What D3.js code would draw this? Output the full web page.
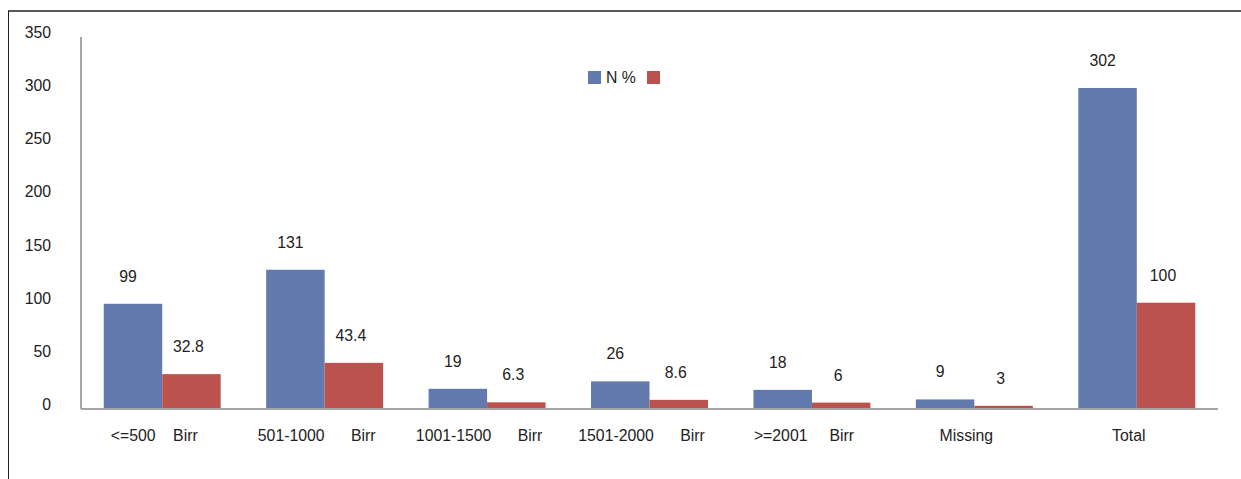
<!DOCTYPE html>
<html>
<head>
<meta charset="utf-8">
<script src="https://cdn.jsdelivr.net/npm/d3@7"></script>
<style>
body { margin: 0; background: #fff; }
text { font-family: "Liberation Sans", Arial, sans-serif; fill: #222; }
</style>
</head>
<body>
<script>
// data
var categories = ["<=500    Birr", "501-1000      Birr", "1001-1500      Birr", "1501-2000      Birr", ">=2001     Birr", "Missing", "Total"];
var nValues = [99, 131, 19, 26, 18, 9, 302];
var pctValues = [32.8, 43.4, 6.3, 8.6, 6, 3, 100];
var yTicks = [0, 50, 100, 150, 200, 250, 300, 350];
var seriesNames = ["N %", ""];
var colors = ["#6279ad", "#bc524d"];

var width = 1241, height = 479;
var fs = 15.8;

var svg = d3.select("body").append("svg")
            .attr("width", width)
            .attr("height", height);

// chart frame
svg.append("line").attr("x1", 8).attr("x2", width).attr("y1", 11).attr("y2", 11)
   .attr("stroke", "#5a5a5a").attr("stroke-width", 2);
svg.append("line").attr("x1", 8.5).attr("x2", 8.5).attr("y1", 11).attr("y2", height)
   .attr("stroke", "#222").attr("stroke-width", 1);

var x = d3.scaleBand().domain(d3.range(categories.length)).range([81, 1218]);
var y = d3.scaleLinear().domain([0, 350]).range([409, 37]);

var barW = x.bandwidth() * 0.36;

// y tick labels
svg.selectAll(".ytick").data(yTicks).enter().append("text")
   .attr("x", 51)
   .attr("y", function (d) { return y(d) + 1; })
   .attr("text-anchor", "end")
   .attr("font-size", fs)
   .text(function (d) { return d; });

// axes lines
svg.append("line").attr("x1", 81).attr("x2", 81).attr("y1", 37).attr("y2", 409)
   .attr("stroke", "#a6a6a6").attr("stroke-width", 2);

var groups = svg.selectAll(".grp").data(categories).enter().append("g")
   .attr("transform", function (d, i) { return "translate(" + (x(i) + x.bandwidth() / 2) + ",0)"; });

groups.append("rect")
   .attr("x", -barW).attr("width", barW)
   .attr("y", function (d, i) { return y(nValues[i]); })
   .attr("height", function (d, i) { return y(0) - y(nValues[i]); })
   .attr("fill", colors[0]);

groups.append("rect")
   .attr("x", 0).attr("width", barW)
   .attr("y", function (d, i) { return y(pctValues[i]); })
   .attr("height", function (d, i) { return y(0) - y(pctValues[i]); })
   .attr("fill", colors[1]);

groups.append("text")
   .attr("x", -barW / 2 - 5)
   .attr("y", function (d, i) { return y(nValues[i]) - 22; })
   .attr("text-anchor", "middle").attr("font-size", fs)
   .text(function (d, i) { return nValues[i]; });

groups.append("text")
   .attr("x", barW / 2 - 3)
   .attr("y", function (d, i) { return y(pctValues[i]) - 22; })
   .attr("text-anchor", "middle").attr("font-size", fs)
   .text(function (d, i) { return pctValues[i]; });

groups.append("text")
   .attr("x", -8)
   .attr("y", 441)
   .attr("text-anchor", "middle").attr("font-size", fs)
   .style("white-space", "pre")
   .text(function (d) { return d; });

svg.append("line").attr("x1", 81).attr("x2", 1218).attr("y1", 409).attr("y2", 409)
   .attr("stroke", "#a6a6a6").attr("stroke-width", 2);

// legend
svg.append("rect").attr("x", 588).attr("y", 71).attr("width", 13).attr("height", 13).attr("fill", colors[0]);
svg.append("text").attr("x", 606).attr("y", 83).attr("font-size", fs).text(seriesNames[0]);
svg.append("rect").attr("x", 647).attr("y", 71).attr("width", 13).attr("height", 13).attr("fill", colors[1]);
</script>
</body>
</html>
